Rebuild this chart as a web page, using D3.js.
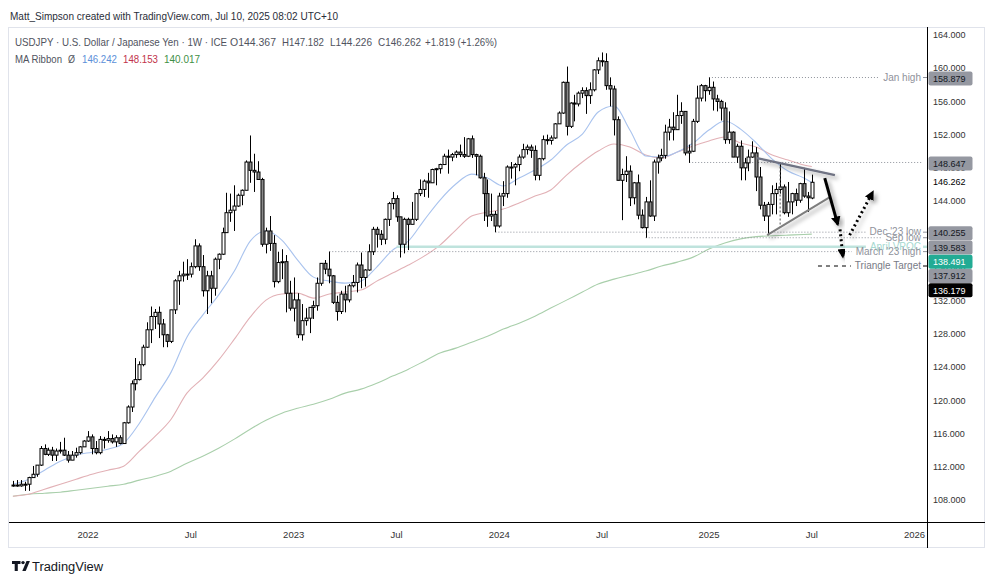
<!DOCTYPE html>
<html>
<head>
<meta charset="utf-8">
<script src="https://cdn.jsdelivr.net/npm/d3@7"></script>
<style>
body { margin: 0; background: #fff; }
svg { display: block; font-family: "Liberation Sans", Arial, sans-serif; }
</style>
</head>
<body>
<svg id="chart" width="993" height="583"></svg>
<script>
'use strict';

let WIDTH = 993;
let HEIGHT = 583;

// weekly bars, first bar is the week of 2021-08-23
let START = '2021-08-23';
let FIRST_OPEN = 109.8;
let LAST_OPEN = 144.367;

let HIGH = [
    110.3, 110.4, 110.4, 110.2, 110.8, 112.1, 112.2, 114.5, 114.7, 114.3,
    114.4, 114.2, 115.0, 115.5, 113.9, 113.9, 114.3, 114.5, 115.2, 116.3,
    115.9, 115.1, 115.7, 115.6, 116.3, 115.9, 115.8, 115.8, 117.4, 119.4,
    122.4, 125.1, 124.7, 126.7, 129.4, 131.3, 131.0, 131.3, 129.8, 128.0,
    130.9, 134.6, 135.6, 136.7, 137.0, 136.6, 139.4, 138.9, 137.5, 135.6,
    135.6, 137.2, 137.7, 140.8, 145.0, 144.9, 145.9, 144.9, 145.4, 148.9,
    151.9, 149.7, 148.8, 146.8, 140.8, 142.2, 139.9, 137.9, 138.2, 137.5,
    134.4, 134.8, 132.9, 131.6, 131.1, 131.2, 132.0, 134.8, 136.5, 136.9,
    137.91, 135.1, 132.6, 133.2, 133.8, 134.0, 135.1, 136.6, 137.8, 135.8,
    138.8, 140.9, 140.9, 140.5, 141.9, 143.9, 145.1, 144.7, 142.1, 142.0,
    142.0, 143.9, 145.0, 146.6, 146.6, 147.4, 147.9, 148.0, 148.5, 149.7,
    150.2, 149.8, 150.1, 150.8, 151.7, 151.6, 151.9, 149.7, 149.6, 147.4,
    146.6, 144.9, 142.8, 145.0, 146.4, 148.3, 148.7, 148.6, 149.6, 150.9,
    150.8, 150.8, 150.7, 149.2, 151.9, 152.0, 151.9, 153.4, 154.8, 158.4,
    160.2, 155.9, 156.8, 157.2, 157.7, 157.7, 158.3, 159.9, 161.3, 161.9,
    161.8, 158.9, 157.9, 154.2, 147.9, 149.4, 148.3, 146.3, 147.2, 143.0,
    144.5, 146.5, 149.0, 149.6, 150.3, 153.2, 153.9, 154.7, 156.8, 155.9,
    154.7, 150.8, 153.9, 157.9, 158.1, 158.0, 158.88, 158.4, 156.8, 156.2,
    155.9, 154.8, 152.4, 150.9, 151.3, 149.2, 150.2, 151.2, 150.5, 148.1,
    143.9, 143.9, 145.9, 146.2, 148.65, 146.0, 146.3, 145.0, 145.5, 146.2,
    148.0, 145.1, 147.182
];
let LOW = [
    109.6, 109.6, 109.6, 109.1, 109.1, 110.8, 110.8, 112.1, 113.4, 113.3,
    112.7, 112.7, 113.6, 113.3, 112.5, 112.8, 113.1, 113.5, 114.4, 115.0,
    113.5, 113.5, 113.5, 114.2, 114.9, 114.8, 114.4, 114.7, 114.8, 117.2,
    118.6, 121.2, 122.4, 124.1, 126.3, 126.9, 128.6, 127.5, 126.4, 126.4,
    126.9, 130.4, 131.5, 134.3, 134.5, 134.8, 135.9, 135.6, 132.5, 130.4,
    131.7, 132.6, 135.8, 137.5, 140.2, 141.5, 140.4, 143.3, 143.5, 145.3,
    146.2, 145.1, 146.6, 138.5, 137.7, 138.0, 133.6, 134.1, 134.6, 130.6,
    130.8, 129.5, 127.5, 127.2, 129.0, 128.1, 129.8, 130.8, 133.8, 135.2,
    134.1, 131.6, 129.6, 130.4, 130.6, 131.8, 133.6, 133.0, 133.5, 133.7,
    135.6, 137.5, 138.4, 138.7, 138.8, 141.0, 143.0, 141.5, 137.2, 137.7,
    138.1, 141.5, 141.6, 144.6, 144.5, 144.4, 146.2, 145.9, 147.3, 148.4,
    147.3, 148.8, 149.2, 149.3, 149.2, 149.3, 149.2, 147.1, 146.7, 141.6,
    140.9, 141.6, 140.25, 140.8, 143.4, 144.4, 146.7, 145.9, 147.6, 149.1,
    149.6, 149.2, 146.5, 146.5, 148.9, 150.8, 150.8, 151.5, 153.3, 154.5,
    151.9, 152.8, 153.6, 155.4, 156.4, 154.5, 155.7, 157.2, 159.3, 160.2,
    157.4, 155.4, 151.9, 146.5, 141.7, 146.3, 143.4, 143.6, 141.8, 140.7,
    139.58, 142.1, 141.6, 147.3, 148.8, 149.1, 151.3, 151.3, 152.6, 153.3,
    149.5, 148.6, 149.9, 153.4, 156.0, 156.0, 156.8, 154.9, 154.8, 153.7,
    150.9, 150.9, 149.3, 148.6, 146.5, 146.5, 147.6, 149.2, 145.2, 143.0,
    141.6, 139.89, 142.4, 142.4, 144.9, 142.4, 142.1, 142.4, 143.4, 143.8,
    144.4, 142.7, 144.226
];
let CLOSE = [
    109.8, 109.7, 109.9, 109.9, 110.7, 111.1, 112.2, 114.2, 113.5, 114.0,
    113.4, 113.9, 114.0, 113.4, 112.8, 113.4, 113.7, 114.4, 115.1, 115.6,
    114.2, 113.7, 115.3, 115.2, 115.4, 115.0, 115.5, 114.8, 117.3, 119.2,
    122.0, 122.5, 124.3, 126.4, 128.5, 130.1, 130.6, 129.2, 127.9, 127.1,
    130.9, 134.4, 135.0, 135.2, 135.2, 136.1, 138.6, 136.1, 133.2, 135.0,
    133.5, 137.0, 137.6, 140.2, 142.6, 142.9, 143.4, 144.7, 145.3, 148.7,
    147.7, 147.5, 146.6, 138.8, 140.4, 138.9, 134.3, 136.6, 136.7, 132.9,
    131.1, 132.1, 127.9, 129.6, 129.9, 131.2, 131.4, 134.1, 136.5, 135.8,
    135.0, 131.8, 130.7, 132.8, 132.1, 133.8, 134.2, 136.3, 134.8, 135.7,
    137.9, 140.6, 140.0, 139.4, 141.8, 143.7, 144.3, 142.1, 138.8, 141.8,
    141.2, 141.8, 144.9, 145.4, 146.4, 146.2, 147.8, 147.9, 148.4, 149.4,
    149.3, 149.6, 149.9, 149.6, 149.4, 151.5, 149.6, 149.4, 146.8, 144.9,
    142.2, 142.4, 141.0, 144.6, 144.9, 148.1, 148.1, 148.4, 149.3, 150.2,
    150.5, 150.1, 147.1, 149.1, 151.4, 151.3, 151.6, 153.3, 154.6, 158.3,
    153.0, 155.8, 155.7, 157.0, 157.3, 156.7, 157.4, 159.8, 160.9, 160.8,
    157.9, 157.5, 153.8, 146.5, 147.2, 147.6, 144.4, 146.2, 142.3, 140.8,
    143.9, 142.2, 148.7, 149.2, 149.5, 152.3, 152.9, 152.6, 154.3, 154.8,
    149.8, 150.0, 153.6, 156.4, 157.9, 157.3, 157.7, 156.3, 156.0, 155.2,
    151.4, 152.3, 149.3, 150.6, 148.0, 148.6, 149.3, 149.8, 146.9, 143.5,
    142.2, 143.6, 144.9, 145.4, 145.7, 142.6, 143.9, 144.9, 144.1, 146.1,
    144.6, 144.4, 146.262
];

// MA ribbon, one value every 4 weeks (last one is the final bar)
let MA_WEEK = [
    0, 4, 8, 12, 16, 20, 24, 28, 32, 36, 40, 44, 48, 52, 56, 60, 64, 68, 72, 76,
    80, 84, 88, 92, 96, 100, 104, 108, 112, 116, 120, 124, 128, 132, 136, 140, 144, 148, 152, 156,
    160, 164, 168, 172, 176, 180, 184, 188, 192, 196, 200, 202
];
let MA_BLUE = [
    109.90, 110.51, 111.59, 112.67, 113.40, 113.76, 114.12, 114.84, 117.25, 120.39,
    123.40, 127.61, 130.27, 132.67, 135.57, 139.18, 140.39, 139.30, 136.89, 134.84,
    134.36, 134.12, 134.36, 136.05, 138.10, 139.18, 141.71, 144.12, 146.05, 147.25,
    146.77, 145.81, 146.77, 147.73, 148.94, 150.75, 152.07, 154.72, 155.45, 152.55,
    149.42, 149.30, 149.90, 150.99, 152.55, 153.64, 152.67, 150.99, 149.06, 147.61,
    146.77, 146.242
];
let MA_RED = [
    108.46, 108.70, 109.30, 109.90, 110.51, 111.11, 111.59, 112.07, 113.88, 115.69,
    117.73, 120.87, 122.67, 124.84, 127.37, 130.02, 132.07, 132.80, 132.92, 132.31,
    132.80, 133.04, 133.28, 134.36, 135.33, 136.29, 137.37, 138.70, 140.51, 142.19,
    142.67, 143.04, 143.76, 144.60, 145.33, 147.13, 148.70, 150.02, 150.87, 150.51,
    149.54, 149.18, 149.90, 150.63, 151.23, 151.71, 150.99, 150.51, 149.54, 148.94,
    148.34, 148.153
];
let MA_GREEN = [
    108.46, 108.70, 108.82, 108.94, 109.18, 109.42, 109.66, 109.90, 110.39, 110.87,
    111.47, 112.43, 113.28, 114.24, 115.33, 116.53, 117.61, 118.46, 119.06, 119.54,
    120.14, 120.87, 121.35, 122.07, 122.92, 123.76, 124.72, 125.69, 126.29, 127.01,
    127.73, 128.58, 129.30, 130.14, 131.11, 132.07, 133.04, 134.00, 134.60, 135.08,
    135.57, 136.17, 136.65, 137.25, 138.22, 138.94, 139.45, 139.72, 139.82, 139.90,
    139.98, 140.017
];

let Y_TICKS = [108, 112, 116, 120, 124, 128, 132, 136, 140, 144, 148, 152, 156, 160, 164];
let X_TICK_DATES = ['2022-01-03', '2022-07-04', '2023-01-02', '2023-07-03', '2024-01-01',
    '2024-07-01', '2025-01-06', '2025-07-07', '2026-01-05'];
let X_TICK_LABELS = ['2022', 'Jul', '2023', 'Jul', '2024', 'Jul', '2025', 'Jul', '2026'];

// horizontal levels drawn on the chart
let LEVEL_NAMES = ['Jan high', '', "Dec '23 low", 'Sep low', 'April VPOC', "March '23 high", 'Triangle Target'];
let LEVEL_VALUES = [158.879, 148.647, 140.255, 139.583, 138.491, 137.912, 136.179];
let LEVEL_FROM = ['2025-01-06', '2024-12-02', '2023-12-25', '2024-09-16', '2023-07-03', '2023-03-06', '2025-07-18'];

// triangle and projection drawings: [date, price]
let TRI_UPPER = [['2025-04-01', 149.18], ['2025-08-17', 147.13]];
let TRI_LOWER = [['2025-04-19', 139.9], ['2025-08-08', 144.48]];
let MEASURE = [['2025-05-12', 148.647], ['2025-05-12', 140.8]];
let ARROW_DOWN = [['2025-07-30', 146.77], ['2025-08-22', 141.2]];
let ARROW_DOT_DOWN = [['2025-08-26', 140.6], ['2025-08-31', 137.3]];
let ARROW_DOT_UP = [['2025-09-12', 139.9], ['2025-10-23', 145.1]];

let LAST_PRICE = 146.262;

let COLOR = {
    TEXT: '#131722',
    GREY: '#8f929b',
    BLUE: '#a9c3ee',
    RED: '#e2b1b6',
    GREEN: '#a9cfab',
    DOWN: '#8a8a8a',
    TEAL: '#22ab94',
    VPOC: '#bfe3dd'
};

let PLOT = { left: 9, right: 927, top: 27, bottom: 522 };

let parse = d3.utcParse('%Y-%m-%d');
let start = parse(START);
let weekDate = function(i) { return d3.utcDay.offset(start, 7 * i); };

let x = d3.scaleUtc()
    .domain([parse('2021-08-23'), parse('2026-01-05')])
    .range([12.9, 914.6]);
let y = d3.scaleLinear().domain([108, 164]).range([500, 35]);

let svg = d3.select('#chart').attr('width', WIDTH).attr('height', HEIGHT);

let defs = svg.append('defs');
defs.append('clipPath').attr('id', 'plot')
    .append('rect')
    .attr('x', PLOT.left).attr('y', PLOT.top)
    .attr('width', PLOT.right - PLOT.left).attr('height', PLOT.bottom - PLOT.top);
let shadow = defs.append('filter').attr('id', 'shadow')
    .attr('x', '-50%').attr('y', '-50%').attr('width', '200%').attr('height', '200%');
shadow.append('feDropShadow')
    .attr('dx', 3).attr('dy', 3).attr('stdDeviation', 2.2)
    .attr('flood-color', '#000').attr('flood-opacity', 0.35);
defs.append('marker').attr('id', 'head')
    .attr('viewBox', '0 0 10 10').attr('refX', 8).attr('refY', 5)
    .attr('markerWidth', 3.2).attr('markerHeight', 3.2)
    .attr('orient', 'auto')
    .append('path').attr('d', 'M0,0 L10,5 L0,10 z').attr('fill', '#000');

// frame
svg.append('rect')
    .attr('x', 8.5).attr('y', 27.5).attr('width', 976).attr('height', 520)
    .attr('fill', 'none').attr('stroke', '#e0e3eb');

let plot = svg.append('g').attr('clip-path', 'url(#plot)');

// MA ribbon
let maLine = function(values) {
    return d3.line()
        .x(function(d, i) { return x(weekDate(MA_WEEK[i])); })
        .y(function(d) { return y(d); })
        .curve(d3.curveMonotoneX)(values);
};
[[MA_GREEN, COLOR.GREEN], [MA_RED, COLOR.RED], [MA_BLUE, COLOR.BLUE]].forEach(function(m) {
    plot.append('path')
        .attr('d', maLine(m[0]))
        .attr('fill', 'none')
        .attr('stroke', m[1])
        .attr('stroke-width', 1.1);
});

// levels
let labelLayer = svg.append('g');
LEVEL_VALUES.forEach(function(v, i) {
    let name = LEVEL_NAMES[i];
    let yy = y(v);
    let x0 = x(parse(LEVEL_FROM[i]));
    let x1 = PLOT.right;
    let isVpoc = name === 'April VPOC';
    let isTarget = name === 'Triangle Target';
    let stroke = isVpoc ? COLOR.VPOC : (isTarget ? '#000' : COLOR.GREY);
    let dash = isVpoc ? null : (isTarget ? '4,4' : '1,2');
    let width = isVpoc ? 2.5 : 1;

    let textStart = x1;
    if (name) {
        let t = labelLayer.append('text')
            .attr('x', x1 - 6).attr('y', yy + 3.3)
            .attr('text-anchor', 'end')
            .attr('font-size', 10)
            .attr('fill', isVpoc ? '#a6d9d0' : (isTarget ? '#787b86' : COLOR.GREY))
            .text(name);
        textStart = x1 - 6 - t.node().getComputedTextLength();
        plot.append('line')
            .attr('x1', x1 - 4).attr('x2', x1)
            .attr('y1', yy).attr('y2', yy)
            .attr('stroke', stroke).attr('stroke-width', width);
    }
    plot.append('line')
        .attr('x1', x0).attr('x2', textStart - 4)
        .attr('y1', yy).attr('y2', yy)
        .attr('stroke', stroke).attr('stroke-width', width)
        .attr('stroke-dasharray', dash);
});

// candles
let bars = CLOSE.map(function(c, i) {
    let o = i === 0 ? FIRST_OPEN : (i === CLOSE.length - 1 ? LAST_OPEN : CLOSE[i - 1]);
    return {
        cx: Math.round(x(weekDate(i))) + 0.5,
        o: o,
        h: Math.max(HIGH[i], o, c),
        l: Math.min(LOW[i], o, c),
        c: c
    };
});
let candles = plot.append('g');
candles.selectAll('line.wick')
    .data(bars)
    .enter()
    .append('line')
    .attr('class', 'wick')
    .attr('x1', function(d) { return d.cx; })
    .attr('x2', function(d) { return d.cx; })
    .attr('y1', function(d) { return y(d.h); })
    .attr('y2', function(d) { return y(d.l); })
    .attr('stroke', '#000')
    .attr('stroke-width', 1);
candles.selectAll('rect')
    .data(bars)
    .enter()
    .append('rect')
    .attr('x', function(d) { return d.cx - 1.5; })
    .attr('y', function(d) { return y(Math.max(d.o, d.c)); })
    .attr('width', 3)
    .attr('height', function(d) { return Math.max(1, Math.abs(y(d.o) - y(d.c))); })
    .attr('fill', function(d) { return d.c >= d.o ? '#fff' : COLOR.DOWN; })
    .attr('stroke', '#000')
    .attr('stroke-width', 1);

// triangle + projection
let pt = function(p) { return [x(parse(p[0])), y(p[1])]; };
let seg = function(p) { return d3.line()(p.map(pt)); };

plot.append('path').attr('d', seg(MEASURE))
    .attr('stroke', '#555').attr('stroke-width', 1).attr('stroke-dasharray', '2,2');
plot.append('path').attr('d', seg(TRI_UPPER))
    .attr('stroke', '#6f7383').attr('stroke-width', 2.2).attr('filter', 'url(#shadow)');
plot.append('path').attr('d', seg(TRI_LOWER))
    .attr('stroke', '#7d7d7d').attr('stroke-width', 2).attr('filter', 'url(#shadow)');
plot.append('path').attr('d', seg(ARROW_DOWN))
    .attr('stroke', '#000').attr('stroke-width', 3).attr('fill', 'none')
    .attr('marker-end', 'url(#head)').attr('filter', 'url(#shadow)');
[ARROW_DOT_DOWN, ARROW_DOT_UP].forEach(function(a) {
    plot.append('path').attr('d', seg(a))
        .attr('stroke', '#000').attr('stroke-width', 3).attr('fill', 'none')
        .attr('stroke-dasharray', '2,3')
        .attr('marker-end', 'url(#head)').attr('filter', 'url(#shadow)');
});

// axes lines
svg.append('line')
    .attr('x1', PLOT.right + 0.5).attr('x2', PLOT.right + 0.5)
    .attr('y1', PLOT.top).attr('y2', 548)
    .attr('stroke', '#000');
svg.append('line')
    .attr('x1', PLOT.left).attr('x2', 985)
    .attr('y1', PLOT.bottom + 0.5).attr('y2', PLOT.bottom + 0.5)
    .attr('stroke', '#000');

// price axis ticks
svg.append('g').selectAll('text')
    .data(Y_TICKS)
    .enter()
    .append('text')
    .attr('x', PLOT.right + 6)
    .attr('y', function(d) { return y(d) + 3.2; })
    .attr('font-size', 9)
    .attr('fill', '#333')
    .text(function(d) { return d3.format('.3f')(d); });

svg.append('text')
    .attr('x', PLOT.right + 6).attr('y', y(LAST_PRICE) + 3.2)
    .attr('font-size', 9).attr('fill', '#000')
    .text(d3.format('.3f')(LAST_PRICE));

// price axis boxes, pushed apart so they do not overlap
let order = d3.range(LEVEL_VALUES.length).sort(function(a, b) { return LEVEL_VALUES[b] - LEVEL_VALUES[a]; });
let prev = -Infinity;
order.forEach(function(i) {
    let name = LEVEL_NAMES[i];
    let cy = Math.max(y(LEVEL_VALUES[i]) + 1, prev + 14.3);
    prev = cy;
    let fill = name === 'April VPOC' ? COLOR.TEAL : (name === 'Triangle Target' ? '#000' : '#9598a1');
    let tc = name === 'April VPOC' || name === 'Triangle Target' ? '#fff' : '#131722';
    svg.append('rect')
        .attr('x', PLOT.right + 1.5).attr('y', cy - 7)
        .attr('width', 44).attr('height', 14).attr('rx', 2)
        .attr('fill', fill);
    svg.append('text')
        .attr('x', PLOT.right + 6).attr('y', cy + 3.2)
        .attr('font-size', 9).attr('fill', tc)
        .text(d3.format('.3f')(LEVEL_VALUES[i]));
});

// time axis
svg.append('g').selectAll('text')
    .data(X_TICK_DATES)
    .enter()
    .append('text')
    .attr('x', function(d) { return x(parse(d)); })
    .attr('y', 537.5)
    .attr('text-anchor', 'middle')
    .attr('font-size', 9.5)
    .attr('fill', '#333')
    .text(function(d, i) { return X_TICK_LABELS[i]; });

// header + legend
let put = function(str, xx, yy, len, fill, size) {
    svg.append('text')
        .attr('x', xx).attr('y', yy)
        .attr('font-size', size)
        .attr('fill', fill)
        .attr('textLength', len)
        .attr('lengthAdjust', 'spacingAndGlyphs')
        .text(str);
};
put('Matt_Simpson created with TradingView.com, Jul 10, 2025 08:02 UTC+10', 10, 20, 328, '#2a2e39', 11);
put('USDJPY \u00b7 U.S. Dollar / Japanese Yen \u00b7 1W \u00b7 ICE', 15, 46, 212, '#50535e', 11);
put('O144.367', 230, 46, 46, '#50535e', 11);
put('H147.182', 282, 46, 42, '#50535e', 11);
put('L144.226', 330, 46, 42, '#50535e', 11);
put('C146.262', 378, 46, 43, '#50535e', 11);
put('+1.819 (+1.26%)', 425, 46, 72, '#50535e', 11);
put('MA Ribbon', 15, 63, 47, '#50535e', 11);
put('\u00d8', 68, 63, 7, '#50535e', 11);
put('146.242', 82, 63, 35, '#5b8fd9', 11);
put('148.153', 123, 63, 35, '#c2334b', 11);
put('140.017', 164, 63, 36, '#3f8f46', 11);

// TradingView logo
let logo = svg.append('g').attr('fill', '#131722');
logo.append('path').attr('d', 'M12,561 h8.5 v3 h-2.7 v7 h-3.1 v-7 h-2.7 z');
logo.append('circle').attr('cx', 23).attr('cy', 562.6).attr('r', 1.7);
logo.append('path').attr('d', 'M26.5,561 h3.4 l-4.2,10 h-3.4 z');
svg.append('text')
    .attr('x', 32).attr('y', 570.5)
    .attr('font-size', 12.5).attr('fill', '#131722')
    .attr('textLength', 71).attr('lengthAdjust', 'spacingAndGlyphs')
    .text('TradingView');
</script>
</body>
</html>
